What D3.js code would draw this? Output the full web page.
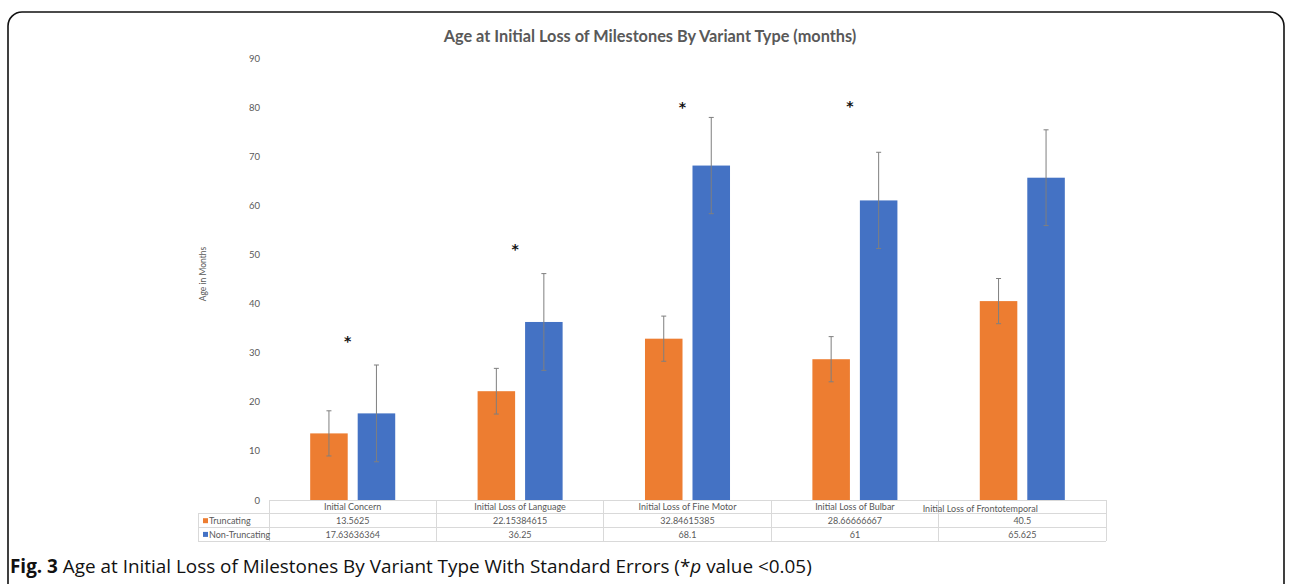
<!DOCTYPE html>
<html>
<head>
<meta charset="utf-8">
<script src="https://cdn.jsdelivr.net/npm/d3@7"></script>
<style>
  body { margin: 0; background: #fff; }
  svg { display: block; }
</style>
</head>
<body>
<div id="chart"></div>
<script>

//********************* DATA ************************************

var categories = ["Initial Concern", "Initial Loss of Language", "Initial Loss of Fine Motor",
                  "Initial Loss of Bulbar", "Initial Loss of Frontotemporal"];
var series = ["Truncating", "Non-Truncating"];
var truncating = [13.5625, 22.15384615, 32.84615385, 28.66666667, 40.5];
var nonTruncating = [17.63636364, 36.25, 68.1, 61, 65.625];
var truncatingLabels = ["13.5625", "22.15384615", "32.84615385", "28.66666667", "40.5"];
var nonTruncatingLabels = ["17.63636364", "36.25", "68.1", "61", "65.625"];
var truncatingSE = [4.6, 4.65, 4.6, 4.6, 4.6];
var nonTruncatingSE = [9.85, 9.85, 9.8, 9.8, 9.75];
// height (in months) where the significance star sits, null = none
var starLevels = [32.6, 51.3, 80.2, 80.4, null];
var yTicks = [0, 10, 20, 30, 40, 50, 60, 70, 80, 90];

var colors = {"Truncating": "#ED7D31", "Non-Truncating": "#4472C4"};

//********************* DIMENSIONS ************************************

var W = 1292, H = 584;
var plot = {left: 269, right: 1106, top: 58, bottom: 500};
var rowH = 13.7;
var legendLeft = 198;
var font = "Lato, 'Open Sans', sans-serif";
var grey = "#595959", lineGrey = "#d9d9d9";

var svg = d3.select("#chart").append("svg")
    .attr("width", W)
    .attr("height", H);

// rounded frame round the figure
svg.append("rect")
    .attr("x", 8).attr("y", 12)
    .attr("width", 1276).attr("height", 640)
    .attr("rx", 14)
    .attr("fill", "none")
    .attr("stroke", "#111")
    .attr("stroke-width", 1.6);

//********************* SCALES ************************************

var x0 = d3.scaleBand().domain(categories).range([plot.left, plot.right]);
var x1 = d3.scaleBand().domain(series).range([0, x0.bandwidth()])
    .paddingInner(0.21).paddingOuter(0.867);
var y = d3.scaleLinear().domain([0, 90]).range([plot.bottom, plot.top]);

var rows = categories.map(function(c, i) {
  return {cat: c, vals: [
    {s: "Truncating", v: truncating[i], se: truncatingSE[i]},
    {s: "Non-Truncating", v: nonTruncating[i], se: nonTruncatingSE[i]}
  ]};
});

//********************* TITLE & AXIS ************************************

svg.append("text")
    .attr("x", 650).attr("y", 42)
    .attr("text-anchor", "middle")
    .attr("font-family", font)
    .attr("font-weight", "bold")
    .attr("font-size", 16.3)
    .attr("fill", grey)
    .text("Age at Initial Loss of Milestones By Variant Type (months)");

var yAxis = svg.append("g")
    .attr("transform", "translate(" + 262 + ",0)")
    .call(d3.axisLeft(y).tickValues(yTicks).tickSize(0).tickPadding(2));
yAxis.select(".domain").remove();
yAxis.selectAll("text")
    .attr("font-family", font)
    .attr("font-size", 9.5)
    .attr("fill", grey);

svg.append("text")
    .attr("transform", "translate(206," + 274 + ") rotate(-90)")
    .attr("text-anchor", "middle")
    .attr("font-family", font)
    .attr("font-size", 8.5)
    .attr("fill", grey)
    .text("Age in Months");

//********************* BARS ************************************

var groups = svg.selectAll(".grp")
    .data(rows)
  .enter().append("g")
    .attr("class", "grp")
    .attr("transform", function(d) { return "translate(" + x0(d.cat) + ",0)"; });

groups.selectAll("rect")
    .data(function(d) { return d.vals; })
  .enter().append("rect")
    .attr("x", function(d) { return x1(d.s); })
    .attr("y", function(d) { return y(d.v); })
    .attr("width", x1.bandwidth())
    .attr("height", function(d) { return y(0) - y(d.v); })
    .attr("fill", function(d) { return colors[d.s]; });

// error bars
var eb = groups.selectAll(".err")
    .data(function(d) { return d.vals; })
  .enter().append("g")
    .attr("class", "err")
    .attr("stroke", "#7f7f7f")
    .attr("stroke-width", 1);

eb.append("line")
    .attr("x1", function(d) { return x1(d.s) + x1.bandwidth() / 2; })
    .attr("x2", function(d) { return x1(d.s) + x1.bandwidth() / 2; })
    .attr("y1", function(d) { return y(d.v + d.se); })
    .attr("y2", function(d) { return y(d.v - d.se); });

[1, -1].forEach(function(sign) {
  eb.append("line")
      .attr("x1", function(d) { return x1(d.s) + x1.bandwidth() / 2 - 2.5; })
      .attr("x2", function(d) { return x1(d.s) + x1.bandwidth() / 2 + 2.5; })
      .attr("y1", function(d) { return y(d.v + sign * d.se); })
      .attr("y2", function(d) { return y(d.v + sign * d.se); });
});

// significance stars
svg.selectAll(".star")
    .data(categories.map(function(c, i) { return {cat: c, lvl: starLevels[i]}; })
      .filter(function(d) { return d.lvl !== null; }))
  .enter().append("text")
    .attr("class", "star")
    .attr("x", function(d) { return x0(d.cat) + x0.bandwidth() / 2 - 5; })
    .attr("y", function(d) { return y(d.lvl) + 6; })
    .attr("text-anchor", "middle")
    .attr("font-family", "'DejaVu Sans', sans-serif")
    .attr("font-weight", "bold")
    .attr("font-size", 14)
    .attr("fill", "#111")
    .text("*");

//********************* DATA TABLE ************************************

var table = svg.append("g")
    .attr("stroke", lineGrey)
    .attr("stroke-width", 1)
    .attr("shape-rendering", "crispEdges");

var t0 = plot.bottom, t1 = t0 + rowH, t2 = t1 + rowH, t3 = t2 + rowH;

table.append("line").attr("x1", plot.left).attr("x2", plot.right).attr("y1", t0).attr("y2", t0);
[t1, t2, t3].forEach(function(yy) {
  table.append("line").attr("x1", legendLeft).attr("x2", plot.right).attr("y1", yy).attr("y2", yy);
});
table.append("line").attr("x1", legendLeft).attr("x2", legendLeft).attr("y1", t1).attr("y2", t3);
categories.forEach(function(c) {
  table.append("line").attr("x1", x0(c)).attr("x2", x0(c)).attr("y1", t0).attr("y2", t3);
});
table.append("line").attr("x1", plot.right).attr("x2", plot.right).attr("y1", t0).attr("y2", t3);

function cellText(xx, yy, txt) {
  return svg.append("text")
      .attr("x", xx).attr("y", yy)
      .attr("text-anchor", "middle")
      .attr("font-family", font)
      .attr("font-size", 9)
      .attr("fill", grey)
      .text(txt);
}

categories.forEach(function(c, i) {
  var cx = x0(c) + x0.bandwidth() / 2;
  // the last header spills to the left in the original
  if (i === categories.length - 1) cellText(cx - 42, t0 + 12, c);
  else cellText(cx, t0 + 10, c);
  cellText(cx, t1 + 10.5, truncatingLabels[i]);
  cellText(cx, t2 + 10.5, nonTruncatingLabels[i]);
});

series.forEach(function(s, i) {
  var ry = (i === 0 ? t1 : t2);
  svg.append("rect")
      .attr("x", legendLeft + 5).attr("y", ry + 4.5)
      .attr("width", 5).attr("height", 5)
      .attr("fill", colors[s]);
  svg.append("text")
      .attr("x", legendLeft + 11).attr("y", ry + 10.5)
      .attr("font-family", font)
      .attr("font-size", 9)
      .attr("fill", grey)
      .text(s);
});

//********************* CAPTION ************************************

var cap = svg.append("text")
    .attr("x", 10).attr("y", 573)
    .attr("font-family", "'Open Sans', 'Noto Sans', sans-serif")
    .attr("font-size", 18.9)
    .attr("fill", "#111");
cap.append("tspan").attr("font-weight", "bold").text("Fig. 3");
cap.append("tspan").text(" Age at Initial Loss of Milestones By Variant Type With Standard Errors (*");
cap.append("tspan").attr("font-style", "italic").text("p");
cap.append("tspan").text(" value <0.05)");

</script>
</body>
</html>
